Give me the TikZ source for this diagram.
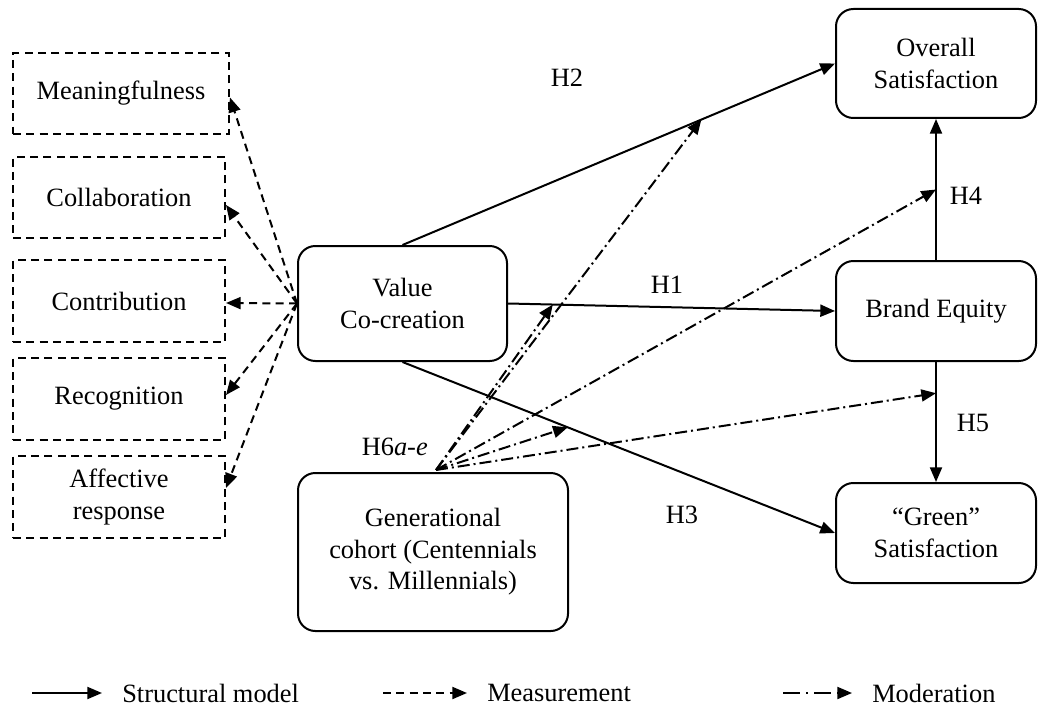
\documentclass[tikz,border=0pt]{standalone}
\usepackage{fontspec}
\setmainfont{Liberation Serif}
\usetikzlibrary{arrows.meta,calc}
\begin{document}
\begin{tikzpicture}[x=0.75pt,y=-0.75pt,
  every node/.style={font=\fontsize{19.8pt}{23.6pt}\selectfont, align=center, inner sep=0pt},
  dbox/.style={draw, line width=1.5pt, dash pattern=on 6pt off 4pt},
  rbox/.style={draw, line width=1.5pt, rounded corners=13pt},
  tipend/.style={-{Triangle[length=11pt,width=9pt]}},
  structural/.style={tipend, line width=1.5pt},
  measure/.style={tipend, line width=1.5pt, dash pattern=on 6pt off 4pt},
  moderate/.style={tipend, line width=1.5pt, dash pattern=on 9pt off 3pt on 1.5pt off 3pt},
  legmoderate/.style={tipend, line width=1.5pt, dash pattern=on 12.75pt off 4.5pt on 1.5pt off 4.5pt}]
\useasboundingbox (0,0) rectangle (1038,713);

% measurement boxes
\node[dbox, minimum width=162pt, minimum height=60.75pt] (mean) at (121,93.5) {Meaningfulness};
\node[dbox, minimum width=159pt, minimum height=60.75pt] (coll) at (119,197.5) {Collaboration};
\node[dbox, minimum width=159pt, minimum height=61.5pt] (contr) at (119,301) {Contribution};
\node[dbox, minimum width=159pt, minimum height=61.5pt] (recog) at (119,399) {Recognition};
\node[dbox, minimum width=159pt, minimum height=61.5pt] (affect) at (119,497) {Affective\\response};

% constructs
\node[rbox, minimum width=156.75pt, minimum height=86.25pt] (value) at (402.5,303.5) {Value\\Co-creation};
\node[rbox, minimum width=202.5pt, minimum height=118.5pt] (gen) at (433,552) {Generational\\cohort (Centennials\\vs. Millennials)};
\node[rbox, minimum width=150pt, minimum height=81.75pt] (overall) at (936,63.5) {Overall\\Satisfaction};
\node[rbox, minimum width=150pt, minimum height=75pt] (brand) at (936,311) {Brand Equity};
\node[rbox, minimum width=150pt, minimum height=75pt] (green) at (936,533) {“Green”\\Satisfaction};

% measurement arrows
\draw[measure] (value.west) -- ([yshift=-3pt]mean.east);
\draw[measure] (value.west) -- ([yshift=-5.6pt]coll.east);
\draw[measure] (value.west) -- ([yshift=-1.5pt]contr.east);
\draw[measure] (value.west) -- ([yshift=3pt]recog.east);
\draw[measure] (value.west) -- ([yshift=6.75pt]affect.east);

% structural arrows
\draw[structural] (value.north) -- (overall.west) coordinate[pos=0.691] (m1);
\draw[structural] (value.east) -- (brand.west) coordinate[pos=0.137] (m3);
\draw[structural] (value.south) -- (green.west) coordinate[pos=0.382] (m5);
\draw[structural] (brand.north) -- (overall.south) coordinate[pos=0.5] (m2);
\draw[structural] (brand.south) -- (green.north) coordinate[pos=0.26] (m4);

% hypothesis labels
\node (h2) at (567,78) {H2};
\node (h1) at (667,285) {H1};
\node (h3) at (682,515) {H3};
\node (h4) at (966,196) {H4};
\node (h5) at (973,423) {H5};
\node[anchor=east] (h6) at (428,447) {H6\textit{a-e}};

% moderation arrows
\coordinate (mo) at (436,470);
\draw[moderate] (mo) -- (m1);
\draw[moderate] (mo) -- (m2);
\draw[moderate] (mo) -- (m3);
\draw[moderate] (mo) -- (m4);
\draw[moderate] (mo) -- (m5);

% legend
\coordinate (ls1) at (32,693);  \coordinate (le1) at (102,693);
\coordinate (ls2) at (383,693); \coordinate (le2) at (467,693);
\coordinate (ls3) at (783,693); \coordinate (le3) at (852,693);
\node[anchor=west] (lt1) at (122,693) {Structural model};
\node[anchor=west] (lt2) at (487,693) {Measurement};
\node[anchor=west] (lt3) at (872,693) {Moderation};
\draw[structural] (ls1) -- (le1);
\draw[measure] (ls2) -- (le2);
\draw[legmoderate] (ls3) -- (le3);
\end{tikzpicture}
\end{document}
